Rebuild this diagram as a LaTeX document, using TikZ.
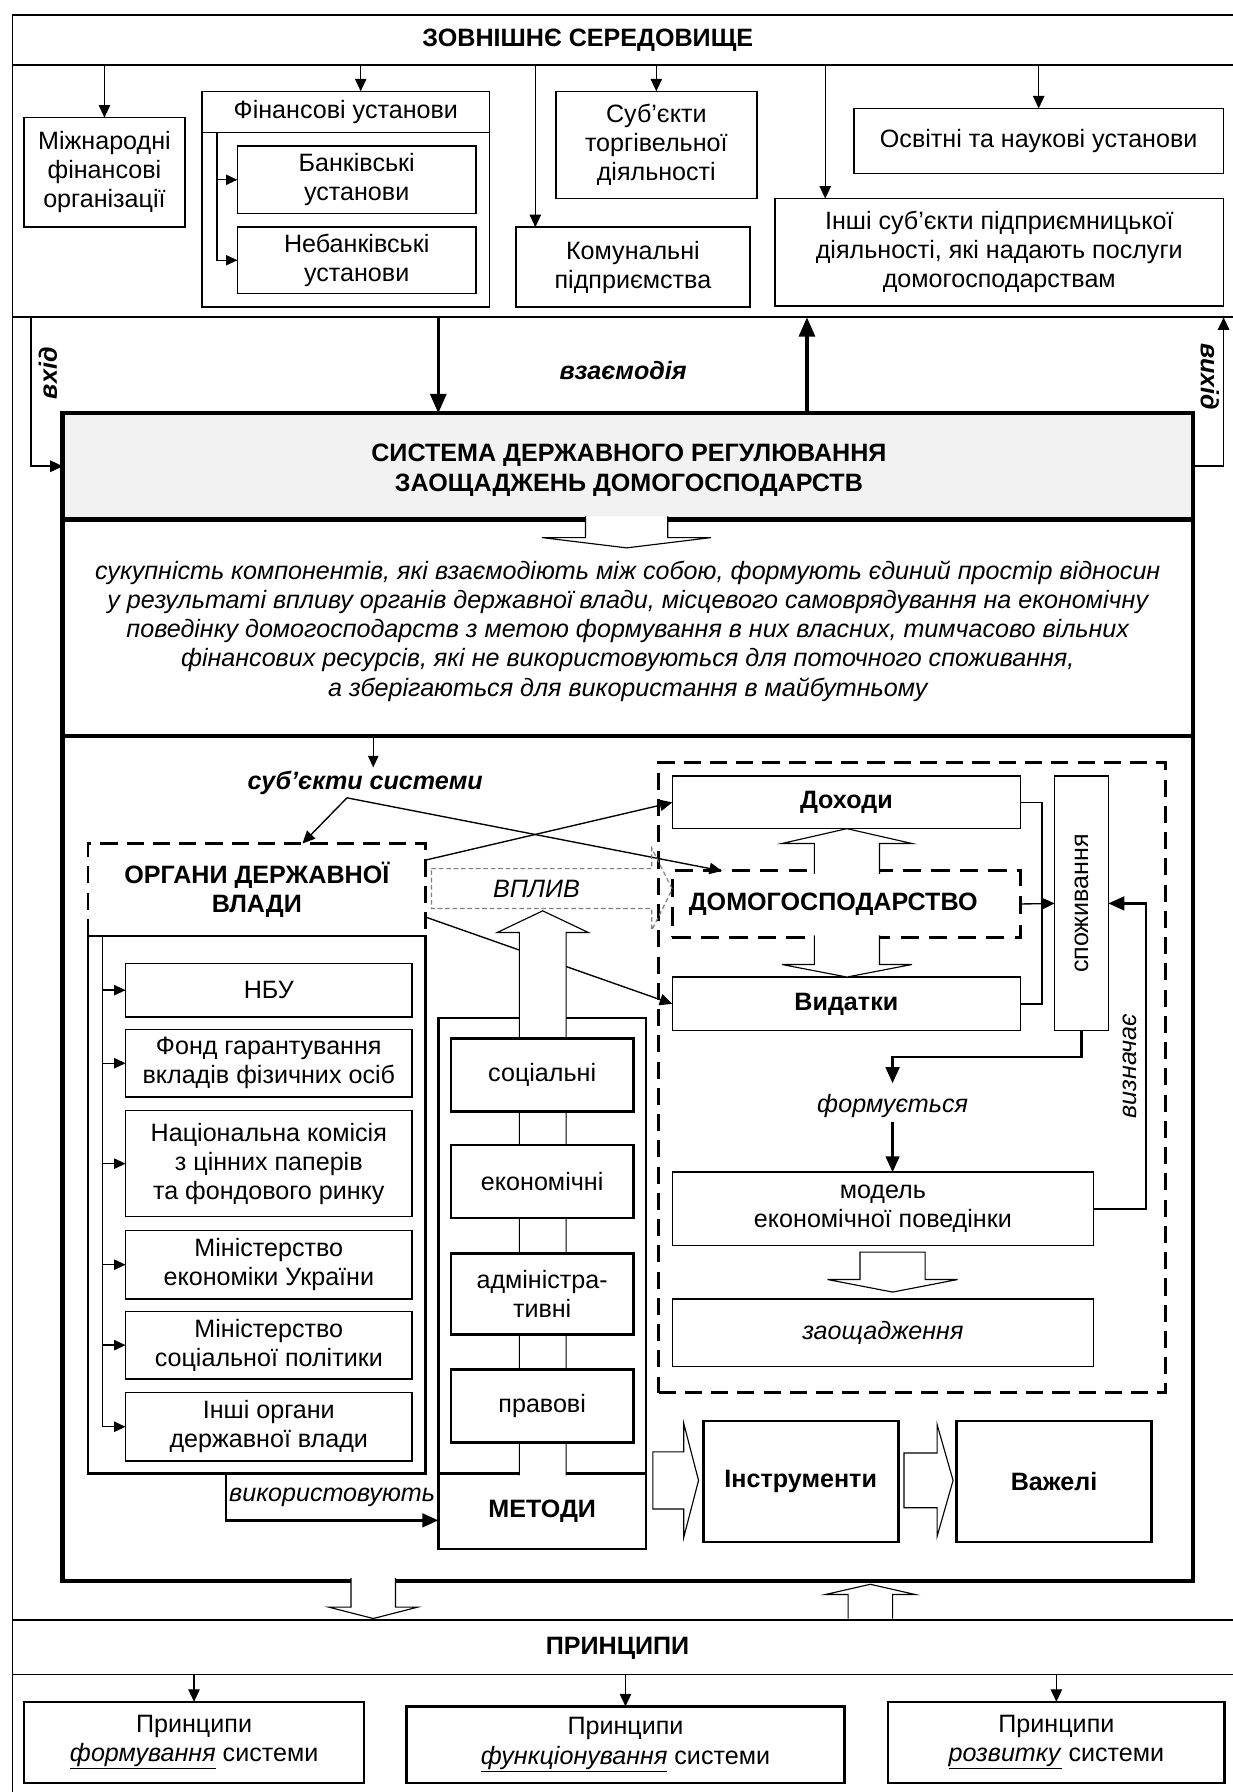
\documentclass[tikz,border=0pt]{standalone}
\usepackage{fontspec}
\setmainfont{Liberation Sans}
\usetikzlibrary{arrows.meta}
\definecolor{hdrgray}{HTML}{F2F2F2}
\definecolor{vgray}{HTML}{7F7F7F}
\newcommand\myfs{\fontsize{22}{25.5}\selectfont}
\newcommand\mkbox[7]{\node[#6, minimum width={(#4-(#2))*1pt}, minimum height={(#5-(#3))*1pt}] (#1) at ({(#2+#4)/2},{(#3+#5)/2}) {#7};}
% hollow vertical arrow, open at its base: cx, ybase-of-shaft, shaft half, head half, y head base, y tip
\newcommand\hvert[6]{%
 \fill[white] ({#1-#3},#2) -- ({#1-#3},#5) -- ({#1-#4},#5) -- (#1,#6) -- ({#1+#4},#5) -- ({#1+#3},#5) -- ({#1+#3},#2) -- cycle;
 \draw[hol] ({#1-#3},#2) -- ({#1-#3},#5) -- ({#1-#4},#5) -- (#1,#6) -- ({#1+#4},#5) -- ({#1+#3},#5) -- ({#1+#3},#2);}
\newcommand\hvertc[6]{%
 \draw[hol, fill=white] ({#1-#3},#2) -- ({#1-#3},#5) -- ({#1-#4},#5) -- (#1,#6) -- ({#1+#4},#5) -- ({#1+#3},#5) -- ({#1+#3},#2) -- cycle;}
% hollow right arrow: cy, xleft, shaft half, head half, x head base, x tip
\newcommand\hright[6]{%
 \draw[hol, fill=white] (#2,{#1-#3}) -- (#5,{#1-#3}) -- (#5,{#1-#4}) -- (#6,#1) -- (#5,{#1+#4}) -- (#5,{#1+#3}) -- (#2,{#1+#3}) -- cycle;}
\begin{document}
\begin{tikzpicture}[x=1pt,y=-1pt,
 font=\myfs, outer sep=0pt, line join=miter,
 bx/.style={draw, line width=1.3pt, fill=white, align=center, inner sep=1pt},
 mbx/.style={draw, line width=2.2pt, fill=white, align=center, inner sep=1pt},
 arr/.style={-{Triangle[length=11pt,width=10pt]}, line width=1.2pt},
 sarr/.style={-{Triangle[length=10pt,width=9pt]}, line width=1.2pt},
 barr/.style={-{Triangle[length=14pt,width=12pt]}, line width=2.2pt},
 tarr/.style={-{Triangle[length=17pt,width=14pt]}, line width=3pt},
 hol/.style={line width=1pt, line join=miter},
 dashbox/.style={line width=2.2pt, dash pattern=on 15pt off 8pt},
 frame/.style={draw, line width=1.6pt}]
\useasboundingbox (0,0) rectangle (1080,1570);
\fill[white] (0,0) rectangle (1080,1570);
% outer frame (right and bottom edges fall outside the picture)
\draw[line width=1.6pt] (11,13) rectangle (1100,1600);
\mkbox{env}{11}{13}{1100}{57}{frame}{}
\node[font=\myfs\bfseries] (envt) at (515,35) {ЗОВНІШНЄ СЕРЕДОВИЩЕ};
\mkbox{topsec}{11}{57}{1100}{278}{frame}{}
% top boxes
\mkbox{mizh}{21}{103}{162}{199}{bx}{Міжнародні\\фінансові\\організації}
\mkbox{fin}{177}{80}{429}{269}{draw, line width=1.3pt}{}
\mkbox{finhead}{177}{80}{429}{116}{bx}{Фінансові установи}
\mkbox{bank}{208}{128}{417}{187}{bx}{Банківські\\установи}
\mkbox{nbank}{208}{199}{417}{257}{bx}{Небанківські\\установи}
\mkbox{subt}{487}{80}{663}{174}{bx}{Суб’єкти\\торгівельної\\діяльності}
\mkbox{komun}{452}{199}{657}{269}{bx}{Комунальні\\підприємства}
\mkbox{osv}{748}{95}{1072}{152}{bx}{Освітні та наукові установи}
\mkbox{inshi}{679}{174}{1072}{268}{bx}{Інші суб’єкти підприємницької\\діяльності, які надають послуги\\домогосподарствам}
\coordinate (fv) at ([xshift=13pt]finhead.south west);
\draw[line width=1.2pt] (fv) |- (nbank.west);
\draw[sarr] (fv |- bank.west) -- (bank.west);
\draw[sarr] (fv |- nbank.west) -- (nbank.west);
\coordinate (finin) at ([xshift=13pt]fin.north);
\coordinate (komin) at ([xshift=17pt]komun.north west);
\coordinate (insin) at ([xshift=44pt]inshi.north west);
\draw[arr] (env.south -| mizh.north) -- (mizh.north);
\draw[arr] (finin |- env.south) -- (finin);
\draw[arr] (env.south -| subt.north) -- (subt.north);
\draw[arr] (komin |- env.south) -- (komin);
\draw[arr] (env.south -| osv.north) -- (osv.north);
\draw[arr] (insin |- env.south) -- (insin);
% system
\mkbox{syshead}{55}{362}{1045}{455}{draw, line width=4pt, fill=hdrgray}{}
\node[font=\myfs\bfseries, align=center] (syst) at (551,412) {СИСТЕМА ДЕРЖАВНОГО РЕГУЛЮВАННЯ\\ЗАОЩАДЖЕНЬ ДОМОГОСПОДАРСТВ};
\mkbox{sys}{55}{362}{1045}{1385}{draw, line width=4pt}{}
\coordinate (d1) at (55,645);
\draw[line width=3.5pt] (d1) -- (d1 -| sys.east);
\hvert{549}{452.5}{36}{74}{471}{480}
\node[align=center, font=\myfs\itshape] (defn) at (550,553) {сукупність компонентів, які взаємодіють між собою, формують єдиний простір відносин\\у результаті впливу органів державної влади, місцевого самоврядування на економічну\\поведінку домогосподарств з метою формування в них власних, тимчасово вільних\\фінансових ресурсів, які не використовуються для поточного споживання,\\а зберігаються для використання в майбутньому};
% input / output / interaction
\coordinate (vhid) at ([xshift=16pt]topsec.south west);
\coordinate (vyhid) at (1072,278);
\draw[arr, line width=1.5pt] (vhid) |- (syshead.west);
\draw[arr, line width=1.5pt] (syshead.east) -| (vyhid);
\node[rotate=90, font=\myfs\bfseries\itshape] (vhidt) at (42,327) {вхід};
\node[rotate=-90, font=\myfs\bfseries\itshape] (vyhidt) at (1060,330) {вихід};
\coordinate (vzd) at (384,278);
\coordinate (vzu) at (707,278);
\draw[tarr] (vzd) -- (vzd |- syshead.north);
\draw[tarr] (vzu |- syshead.north) -- (vzu);
\node[font=\myfs\bfseries\itshape] (vzt) at (546,325) {взаємодія};
% subjects
\node[font=\myfs\bfseries\itshape] (subj) at (320,686) {суб’єкти системи};
\coordinate (subjin) at (327,647);
\draw[sarr] (subjin) -- (subjin |- subj.north);
\coordinate (sj) at (304,699);
% organs of state power
\mkbox{organ}{77}{739}{373}{820}{align=center, font=\myfs\bfseries}{ОРГАНИ ДЕРЖАВНОЇ\\ВЛАДИ}
\draw[dashbox] (organ.south west) -- (organ.north west) -- (organ.north east) -- (organ.south east);
\mkbox{orglist}{77}{820}{373}{1291}{draw, line width=2.2pt}{}
\mkbox{nbu}{110}{844}{361}{891}{bx}{НБУ}
\mkbox{fond}{110}{902}{361}{961}{bx}{Фонд гарантування\\вкладів фізичних осіб}
\mkbox{nkcp}{110}{973}{361}{1066}{bx}{Національна комісія\\з цінних паперів\\та фондового ринку}
\mkbox{minek}{110}{1078}{361}{1138}{bx}{Міністерство\\економіки України}
\mkbox{minsoc}{110}{1149}{361}{1208}{bx}{Міністерство\\соціальної політики}
\mkbox{inorg}{110}{1220}{361}{1280}{bx}{Інші органи\\державної влади}
\coordinate (olv) at (90,821);
\draw[line width=1.2pt] (olv) -- (olv |- inorg.west);
\foreach \n in {nbu,fond,nkcp,minek,minsoc,inorg} {\draw[sarr] (olv |- \n.west) -- (\n.west);}
\coordinate (vyk) at ([xshift=-27pt]orglist.south);
\node[font=\myfs\itshape, inner sep=0pt] (vykt) at (291,1312) {використовують};
% household
\mkbox{hh}{577}{668}{1021}{1220}{draw, dashbox}{}
\mkbox{dohody}{589}{680}{894}{726}{bx, font=\myfs\bfseries}{Доходи}
\mkbox{dom}{589}{763}{894}{821}{draw, line width=2.6pt, dash pattern=on 16pt off 9pt}{}
\node[font=\myfs\bfseries] (domt) at (730,792) {ДОМОГОСПОДАРСТВО};
\mkbox{vydatky}{589}{856}{894}{903}{bx, font=\myfs\bfseries}{Видатки}
\hvert{742}{765.5}{28.5}{57}{739}{726}
\hvert{742}{819.5}{28.5}{57}{845}{856}
\mkbox{spoz}{924}{680}{971}{903}{bx}{}
\node[rotate=90] (spozt) at (spoz.center) {споживання};
\coordinate (jn) at (913,792);
\draw[line width=1.2pt] (dohody.east) -| (jn);
\draw[line width=1.2pt] (vydatky.east) -| (jn);
\draw[arr] (dom.east) -- (spoz.west);
\coordinate (formbend) at (782,926);
\coordinate (formtop) at (782,949);
\draw[barr] (spoz.south) |- (formbend) -- (formtop);
\node[font=\myfs\itshape] (form) at (782,969) {формується};
\mkbox{model}{589}{1027}{958}{1091}{bx}{модель\\економічної поведінки}
\draw[barr] (form.south) -- (form.south |- model.north);
\coordinate (vyzx) at (1004,0);
\draw[barr] (model.east) -- (model.east -| vyzx) |- (spoz.east);
\node[rotate=90, font=\myfs\itshape] (vyznt) at (990,934) {визначає};
\hvertc{782}{1097}{28.5}{57}{1121}{1132}
\mkbox{zaosh}{589}{1138}{958}{1197}{bx, font=\myfs\itshape}{заощадження}
% methods
\mkbox{methframe}{384}{892}{566}{1357}{draw, line width=2.2pt}{}
\mkbox{metody}{384}{1291}{566}{1357}{draw, line width=2.2pt, font=\myfs\bfseries}{МЕТОДИ}
\draw[barr] (vyk) |- ([yshift=-8pt]metody.west);
% connectors from organs and subjects
\draw[arr] (sj) -- ([xshift=40pt]organ.north);
\draw[arr] (sj) -- ([xshift=-109pt]dom.north);
\draw[arr] ([yshift=26pt]organ.east) -- (dohody.west);
\draw[arr] ([yshift=-24pt]organ.east) -- (vydatky.west);
% big upward arrow
\hvert{475.5}{1292.5}{20.5}{40}{817}{798}
\mkbox{soc}{395}{910}{555}{974}{mbx}{соціальні}
\mkbox{ekon}{395}{1003}{555}{1067}{mbx}{економічні}
\mkbox{adm}{395}{1098}{555}{1169}{mbx}{адміністра-\\тивні}
\mkbox{prav}{395}{1200}{555}{1264}{mbx}{правові}
% influence arrow
\draw[vgray, line width=1pt, dash pattern=on 4pt off 2.5pt] (378,761) -- (571,761) -- (571,743) -- (589,779) -- (571,815) -- (571,796) -- (378,796) -- cycle;
\node[font=\myfs\itshape] (vplyv) at (470,779) {ВПЛИВ};
% instruments, levers
\mkbox{instr}{616}{1245}{787}{1351}{draw, line width=2.5pt, fill=white, font=\myfs\bfseries}{Інструменти}
\mkbox{vazh}{838}{1245}{1009}{1351}{draw, line width=2.5pt, fill=white, font=\myfs\bfseries}{Важелі}
\hright{1297}{572}{25}{50}{599}{612}
\hright{1297}{792}{24}{49}{821}{835}
% principles
\hvert{327}{1382.5}{19.5}{39}{1408}{1418}
\hvert{762.5}{1418}{19.5}{39.5}{1397}{1388}
\mkbox{princ}{11}{1419}{1100}{1467}{frame}{}
\node[font=\myfs\bfseries] (princt) at (541,1444) {ПРИНЦИПИ};
\mkbox{pf}{21}{1491}{319}{1562}{mbx}{Принципи\\\underline{\textit{формування}} системи}
\mkbox{pfun}{356}{1495}{740}{1562}{mbx}{Принципи\\\underline{\textit{функціонування}} системи}
\mkbox{pr}{778}{1491}{1073}{1562}{mbx}{Принципи\\\underline{\textit{розвитку}} системи}
\draw[arr] (princ.south -| pf.north) -- (pf.north);
\draw[arr] (princ.south -| pfun.north) -- (pfun.north);
\draw[arr] (princ.south -| pr.north) -- (pr.north);
\end{tikzpicture}
\end{document}
